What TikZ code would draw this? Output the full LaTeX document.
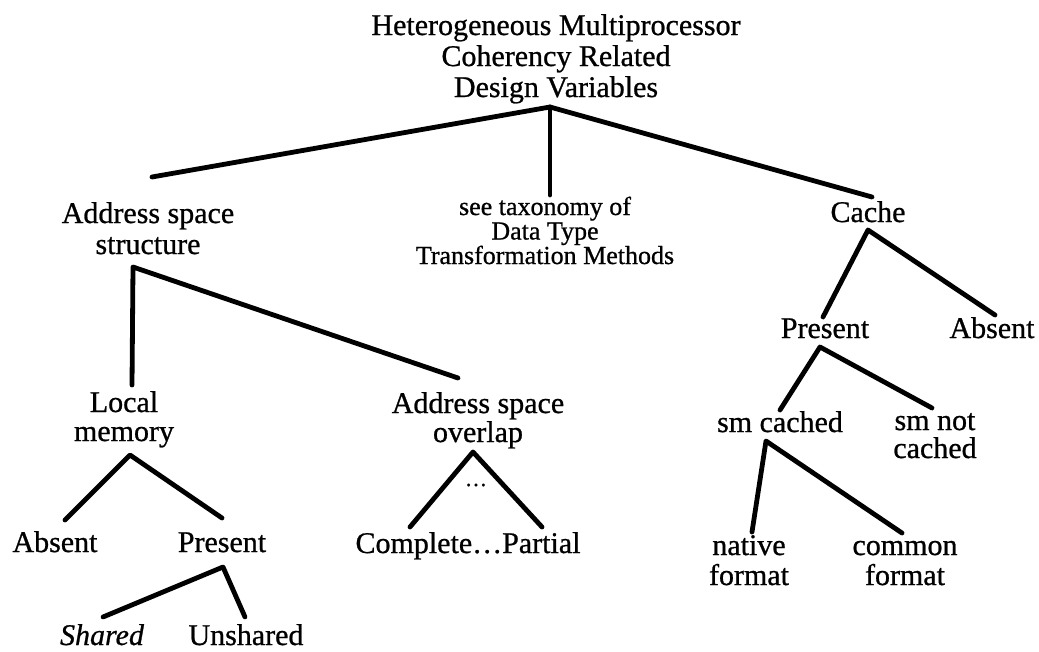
\documentclass[tikz,border=0pt]{standalone}
\usepackage{fontspec}
\setmainfont{Liberation Serif}[FakeBold=0.8]
\usetikzlibrary{calc}
\begin{document}
\begin{tikzpicture}[x=1pt,y=-1pt,
  lbl/.style={anchor=base,inner sep=0pt,align=center,
    font=\fontsize{30}{30}\selectfont},
  small/.style={anchor=base,inner sep=0pt,align=center,
    font=\fontsize{26}{24.5}\selectfont},
  branch/.style={line width=4.8pt,line cap=round,line join=round}]
\useasboundingbox (0,0) rectangle (1039,651);

% labels, each placed by the baseline of its last line
\node[lbl,font=\fontsize{30}{31}\selectfont] (root) at (556,97) {Heterogeneous Multiprocessor\\Coherency Related\\Design Variables};
\node[lbl,font=\fontsize{30}{31}\selectfont] (ass) at (148,254) {Address space\\structure};
\node[small] (tax) at (545,264) {see taxonomy of\\Data Type\\Transformation Methods};
\node[lbl] (cache) at (868,222) {Cache};
\node[lbl,font=\fontsize{30}{29}\selectfont] (lm) at (124,441) {Local\\memory};
\node[lbl,font=\fontsize{30}{29}\selectfont] (aso) at (478,442) {Address space\\overlap};
\node[lbl] (abs1) at (55,552) {Absent};
\node[lbl] (pres1) at (222,552) {Present};
\node[lbl] (shared) at (102,645) {\itshape Shared};
\node[lbl] (unshared) at (246,645) {Unshared};
\node[lbl] (cpl) at (468,553) {Complete…Partial};
\node[anchor=base,inner sep=0pt,font=\fontsize{22}{22}\selectfont] (dots) at (476,486) {…};
\node[lbl] (pres2) at (825,338) {Present};
\node[lbl] (abs2) at (992,338) {Absent};
\node[lbl] (smc) at (780,432) {sm cached};
\node[lbl,font=\fontsize{30}{28}\selectfont] (smn) at (935,458) {sm not\\cached};
\node[lbl] (nat) at (749,585) {native\\format};
\node[lbl] (com) at (905,585) {common\\format};

% branching points below each parent
\coordinate (j0) at ($(root.base)+(-6,10)$);
\coordinate (j1) at ($(ass.base)+(-15,13)$);
\coordinate (j2) at ($(lm.base)+(6,14)$);
\coordinate (j3) at ($(pres1.base)+(1,15)$);
\coordinate (j4) at ($(aso.base)+(-5,10)$);
\coordinate (j5) at ($(cache.base)+(0,8)$);
\coordinate (j6) at ($(pres2.base)+(-5,9)$);
\coordinate (j7) at ($(smc.base)+(-14,9)$);

% tree branches
\draw[branch] ($(ass.base)+(4,-77)$) -- (j0) -- ($(cache.base)+(4,-25)$);
\draw[branch] (j0) -- ($(tax.base)+(5,-69)$);
\draw[branch] ($(lm.base)+(8,-56)$) -- (j1) -- ($(aso.base)+(-20,-64)$);
\draw[branch] ($(abs1.base)+(10,-32)$) -- (j2) -- ($(pres1.base)+(0,-34)$);
\draw[branch] ($(shared.base)+(1,-28)$) -- (j3) -- ($(unshared.base)+(-1,-28)$);
\draw[branch] ($(cpl.base)+(-58,-26)$) -- (j4) -- ($(cpl.base)+(74,-26)$);
\draw[branch] ($(pres2.base)+(-2,-21)$) -- (j5) -- ($(abs2.base)+(3,-23)$);
\draw[branch] ($(smc.base)+(0,-22)$) -- (j6) -- ($(smn.base)+(-3,-50)$);
\draw[branch] ($(nat.base)+(3,-53)$) -- (j7) -- ($(com.base)+(-3,-52)$);
\end{tikzpicture}
\end{document}
